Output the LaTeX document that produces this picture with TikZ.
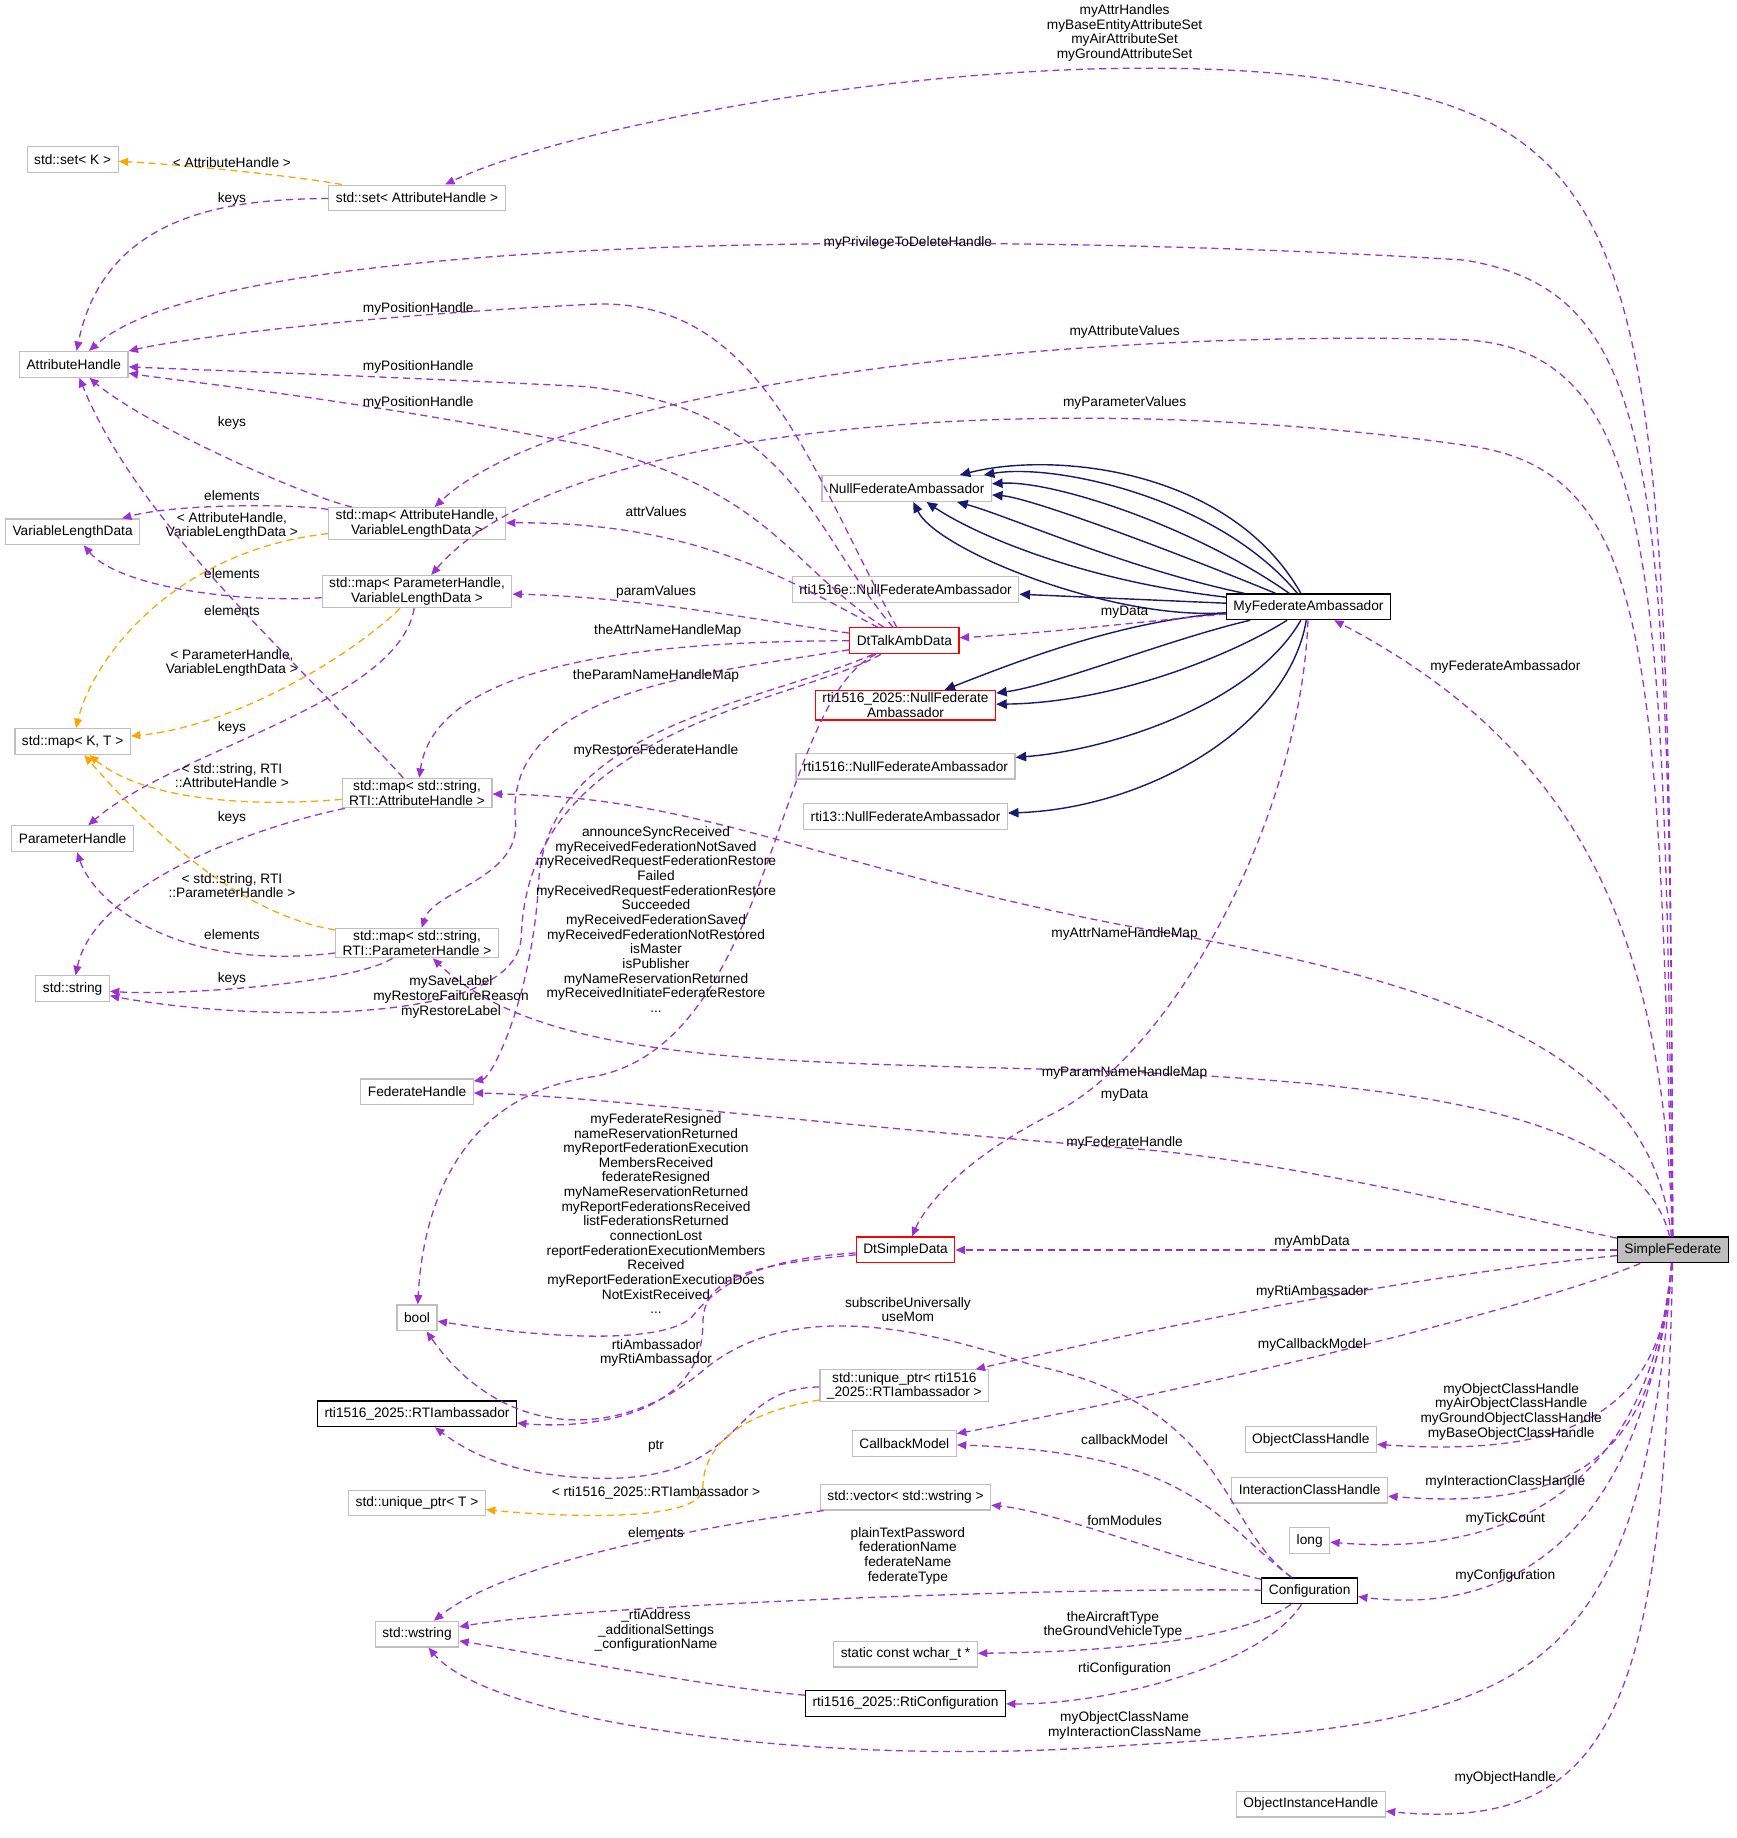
\documentclass[tikz,border=0pt]{standalone}
\usepackage{fontspec}
\setmainfont{Liberation Sans}
\usetikzlibrary{arrows.meta}
\definecolor{pur}{HTML}{9A32CD}
\definecolor{org}{HTML}{FFA500}
\definecolor{nav}{HTML}{191970}
\definecolor{gbd}{HTML}{BFBFBF}
\begin{document}
\begin{tikzpicture}[x=0.5pt,y=-0.5pt,
  every node/.style={font=\fontsize{5.85}{6.25}\selectfont},
  box/.style={draw=gbd,fill=white,line width=0.5pt,inner xsep=3pt,inner ysep=1pt,minimum height=11pt,align=center},
  bbox/.style={box,draw=black},
  rbox/.style={box,draw=red},
  sbox/.style={box,draw=black,fill=gbd},
  lb/.style={align=center,inner sep=0pt},
  e/.style={pur,densely dashed,dash pattern=on 3pt off 2pt,line width=0.55pt,-{Triangle[length=4pt,width=3.4pt]}},
  o/.style={e,org},
  n/.style={nav,line width=0.6pt,-{Triangle[length=4.5pt,width=4pt]}}]
\useasboundingbox (0,0) rectangle (1482,1569);
% nodes
\node[box] (setK) at (62,136) {std::set< K >};
\node[box] (setAH) at (356,169) {std::set< AttributeHandle >};
\node[box] (AH) at (63,311) {AttributeHandle};
\node[box] (VLD) at (62,454) {VariableLengthData};
\node[box] (mapKT) at (62,633) {std::map< K, T >};
\node[box] (PH) at (62,716) {ParameterHandle};
\node[box] (str) at (62,844) {std::string};
\node[box] (mapAV) at (356,447) {std::map< AttributeHandle,\\VariableLengthData >};
\node[box] (mapPV) at (356,505) {std::map< ParameterHandle,\\VariableLengthData >};
\node[box] (mapSA) at (356,677) {std::map< std::string,\\RTI::AttributeHandle >};
\node[box] (mapSP) at (356,805) {std::map< std::string,\\RTI::ParameterHandle >};
\node[box] (FH) at (356,932) {FederateHandle};
\node[box] (bool) at (356,1125) {bool};
\node[bbox] (RTIa) at (356,1207) {rti1516\_2025::RTIambassador};
\node[box] (uptrT) at (356,1283) {std::unique\_ptr< T >};
\node[box] (wstr) at (356,1395) {std::wstring};
\node[box] (NFA) at (774,417) {NullFederateAmbassador};
\node[box] (R1516e) at (773,503) {rti1516e::NullFederateAmbassador};
\node[rbox] (DTA) at (772,547) {DtTalkAmbData};
\node[rbox] (R2025) at (773,602) {rti1516\_2025::NullFederate\\Ambassador};
\node[box] (R1516) at (773,654) {rti1516::NullFederateAmbassador};
\node[box] (R13) at (773,697) {rti13::NullFederateAmbassador};
\node[bbox] (MFA) at (1117,518) {MyFederateAmbassador};
\node[rbox] (DSD) at (773,1067) {DtSimpleData};
\node[box] (uptrR) at (772,1183) {std::unique\_ptr< rti1516\\\_2025::RTIambassador >};
\node[box] (CM) at (772,1232) {CallbackModel};
\node[box] (vec) at (773,1278) {std::vector< std::wstring >};
\node[box] (scw) at (773,1412) {static const wchar\_t *};
\node[bbox] (RC) at (773,1454) {rti1516\_2025::RtiConfiguration};
\node[bbox] (Conf) at (1118,1358) {Configuration};
\node[box] (OCH) at (1119,1229) {ObjectClassHandle};
\node[box] (ICH) at (1118,1272) {InteractionClassHandle};
\node[box] (long) at (1118,1315) {long};
\node[box] (OIH) at (1119,1540) {ObjectInstanceHandle};
\node[sbox] (SF) at (1428,1067) {SimpleFederate};
% SimpleFederate edges
\draw[e] (SF) .. controls (1425,250) and (1420,110) .. (1150,70) .. controls (900,30) and (500,100) .. (setAH);
\node[lb] (l1) at (960,28) {myAttrHandles\\myBaseEntityAttributeSet\\myAirAttributeSet\\myGroundAttributeSet};
\draw[e] (SF) .. controls (1425,400) and (1420,250) .. (1250,222) .. controls (900,200) and (200,190) .. (AH);
\node[lb] (l2) at (775,207) {myPrivilegeToDeleteHandle};
\draw[e] (SF) .. controls (1420,500) and (1420,300) .. (1250,290) .. controls (900,280) and (480,330) .. (mapAV);
\node[lb] (l3) at (960,283) {myAttributeValues};
\draw[e] (SF) .. controls (1415,550) and (1410,400) .. (1250,380) .. controls (900,330) and (480,360) .. (mapPV);
\node[lb] (l4) at (960,344) {myParameterValues};
\draw[e] (SF) .. controls (1420,800) and (1350,640) .. (MFA);
\node[lb] (l5) at (1285,569) {myFederateAmbassador};
\draw[e] (SF) .. controls (1410,900) and (1250,840) .. (960,790) .. controls (700,740) and (600,680) .. (mapSA);
\node[lb] (l6) at (960,797) {myAttrNameHandleMap};
\draw[e] (SF) .. controls (1400,950) and (1200,925) .. (960,915) .. controls (700,905) and (470,915) .. (mapSP);
\node[lb] (l7) at (960,916) {myParamNameHandleMap};
\draw[e] (SF) .. controls (1300,1040) and (1100,990) .. (960,980) .. controls (700,960) and (500,935) .. (FH);
\node[lb] (l8) at (960,976) {myFederateHandle};
\draw[e] (SF) -- (DSD);
\node[lb] (l9) at (1120,1060) {myAmbData};
\draw[e] (SF) .. controls (1200,1090) and (1000,1130) .. (uptrR);
\node[lb] (l10) at (1120,1103) {myRtiAmbassador};
\draw[e] (SF) .. controls (1300,1120) and (1000,1190) .. (CM);
\node[lb] (l11) at (1120,1148) {myCallbackModel};
\draw[e] (SF) .. controls (1420,1200) and (1350,1245) .. (OCH);
\node[lb] (l12) at (1290,1205) {myObjectClassHandle\\myAirObjectClassHandle\\myGroundObjectClassHandle\\myBaseObjectClassHandle};
\draw[e] (SF) .. controls (1415,1240) and (1350,1290) .. (ICH);
\node[lb] (l13) at (1285,1265) {myInteractionClassHandle};
\draw[e] (SF) .. controls (1410,1260) and (1300,1330) .. (long);
\node[lb] (l14) at (1285,1297) {myTickCount};
\draw[e] (SF) .. controls (1405,1300) and (1300,1380) .. (Conf);
\node[lb] (l15) at (1285,1345) {myConfiguration};
\draw[e] (SF) .. controls (1400,1450) and (1300,1470) .. (960,1490) .. controls (700,1510) and (420,1470) .. (wstr);
\node[lb] (l16) at (960,1473) {myObjectClassName\\myInteractionClassName};
\draw[e] (SF) .. controls (1420,1450) and (1380,1565) .. (OIH);
\node[lb] (l17) at (1285,1518) {myObjectHandle};
% MyFederateAmbassador
\draw[n] (MFA) .. controls (1050,400) and (900,385) .. (NFA);
\draw[n] (MFA) .. controls (1040,425) and (900,395) .. (NFA);
\draw[n] (MFA) .. controls (1020,450) and (900,410) .. (NFA);
\draw[n] (MFA) .. controls (1000,470) and (880,425) .. (NFA);
\draw[n] (MFA) .. controls (960,485) and (860,440) .. (NFA);
\draw[n] (MFA) .. controls (920,495) and (830,455) .. (NFA);
\draw[n] (MFA) .. controls (950,530) and (800,470) .. (NFA);
\draw[n] (MFA) -- (R1516e);
\draw[n] (MFA) .. controls (960,530) and (880,560) .. (R2025);
\draw[n] (MFA) .. controls (1000,545) and (900,585) .. (R2025);
\draw[n] (MFA) .. controls (1050,560) and (950,600) .. (R2025);
\draw[n] (MFA) .. controls (1070,600) and (950,640) .. (R1516);
\draw[n] (MFA) .. controls (1100,620) and (980,690) .. (R13);
\draw[e] (MFA) .. controls (980,530) and (900,540) .. (DTA);
\node[lb] (l18) at (960,523) {myData};
\draw[e] (MFA) .. controls (1110,700) and (1000,900) .. (900,950) .. controls (820,990) and (790,1030) .. (DSD);
\node[lb] (l19) at (960,935) {myData};
% DtTalkAmbData
\draw[e] (DTA) .. controls (690,400) and (650,250) .. (500,260) .. controls (300,270) and (150,290) .. (AH);
\node[lb] (l20) at (357,264) {myPositionHandle};
\draw[e] (DTA) .. controls (690,450) and (680,350) .. (500,330) .. controls (300,320) and (150,315) .. (AH);
\node[lb] (l21) at (357,313) {myPositionHandle};
\draw[e] (DTA) .. controls (670,480) and (660,420) .. (500,380) .. controls (300,340) and (150,325) .. (AH);
\node[lb] (l22) at (357,344) {myPositionHandle};
\draw[e] (DTA) .. controls (680,500) and (600,445) .. (mapAV);
\node[lb] (l23) at (560,437) {attrValues};
\draw[e] (DTA) .. controls (650,530) and (550,510) .. (mapPV);
\node[lb] (l24) at (560,505) {paramValues};
\draw[e] (DTA) .. controls (500,547) and (370,580) .. (mapSA);
\node[lb] (l25) at (570,539) {theAttrNameHandleMap};
\draw[e] (DTA) .. controls (600,575) and (430,590) .. (440,700) .. controls (445,750) and (370,760) .. (mapSP);
\node[lb] (l26) at (560,577) {theParamNameHandleMap};
\draw[e] (DTA) .. controls (650,600) and (470,620) .. (460,750) .. controls (455,850) and (420,920) .. (FH);
\node[lb] (l27) at (560,641) {myRestoreFederateHandle};
\draw[e] (DTA) .. controls (660,600) and (660,900) .. (500,920) .. controls (380,940) and (360,1050) .. (bool);
\node[lb] (l28) at (560,785) {announceSyncReceived\\myReceivedFederationNotSaved\\myReceivedRequestFederationRestore\\Failed\\myReceivedRequestFederationRestore\\Succeeded\\myReceivedFederationSaved\\myReceivedFederationNotRestored\\isMaster\\isPublisher\\myNameReservationReturned\\myReceivedInitiateFederateRestore\\...};
\draw[e] (DTA) .. controls (680,600) and (450,620) .. (445,800) .. controls (440,880) and (200,870) .. (str);
\node[lb] (l29) at (385,851) {mySaveLabel\\myRestoreFailureReason\\myRestoreLabel};
% DtSimpleData
\draw[e] (DSD) .. controls (640,1075) and (610,1100) .. (590,1125) .. controls (560,1150) and (450,1140) .. (bool);
\node[lb] (l30) at (560,1036) {myFederateResigned\\nameReservationReturned\\myReportFederationExecution\\MembersReceived\\federateResigned\\myNameReservationReturned\\myReportFederationsReceived\\listFederationsReturned\\connectionLost\\reportFederationExecutionMembers\\Received\\myReportFederationExecutionDoes\\NotExistReceived\\...};
\draw[e] (DSD) .. controls (640,1080) and (600,1090) .. (600,1130) .. controls (600,1210) and (500,1220) .. (RTIa);
\node[lb] (l31) at (560,1155) {rtiAmbassador\\myRtiAmbassador};
\draw[e] (uptrR) .. controls (620,1185) and (640,1260) .. (520,1262) .. controls (440,1262) and (400,1240) .. (RTIa);
\node[lb] (l32) at (560,1235) {ptr};
\draw[o] (uptrR) .. controls (610,1210) and (600,1250) .. (600,1270) .. controls (600,1300) and (480,1295) .. (uptrT);
\node[lb] (l33) at (560,1274) {< rti1516\_2025::RTIambassador >};
% Configuration
\draw[e] (Conf) .. controls (1040,1300) and (1050,1200) .. (880,1165) .. controls (750,1120) and (660,1120) .. (600,1170) .. controls (530,1230) and (430,1230) .. (bool);
\node[lb] (l34) at (775,1118) {subscribeUniversally\\useMom};
\draw[e] (Conf) .. controls (1040,1300) and (1020,1240) .. (CM);
\node[lb] (l35) at (960,1229) {callbackModel};
\draw[e] (Conf) .. controls (1000,1330) and (900,1290) .. (vec);
\node[lb] (l36) at (960,1298) {fomModules};
\draw[e] (Conf) .. controls (900,1355) and (500,1370) .. (wstr);
\node[lb] (l37) at (775,1328) {plainTextPassword\\federationName\\federateName\\federateType};
\draw[e] (Conf) .. controls (1060,1400) and (950,1410) .. (scw);
\node[lb] (l38) at (950,1387) {theAircraftType\\theGroundVehicleType};
\draw[e] (Conf) .. controls (1080,1420) and (950,1455) .. (RC);
\node[lb] (l39) at (960,1425) {rtiConfiguration};
\draw[e] (RC) .. controls (600,1440) and (450,1410) .. (wstr);
\node[lb] (l40) at (560,1392) {\_rtiAddress\\\_additionalSettings\\\_configurationName};
\draw[e] (vec) .. controls (700,1290) and (450,1320) .. (wstr);
\node[lb] (l41) at (560,1308) {elements};
% containers
\draw[o] (setAH) .. controls (250,150) and (150,140) .. (setK);
\node[lb] (l42) at (198,139) {< AttributeHandle >};
\draw[e] (setAH) .. controls (200,170) and (90,180) .. (AH);
\node[lb] (l43) at (198,170) {keys};
\draw[e] (mapAV) .. controls (250,420) and (120,360) .. (AH);
\node[lb] (l44) at (198,361) {keys};
\draw[e] (mapAV) .. controls (250,430) and (150,430) .. (VLD);
\node[lb] (l45) at (198,423) {elements};
\draw[o] (mapAV) .. controls (150,470) and (80,560) .. (mapKT);
\node[lb] (l46) at (198,449) {< AttributeHandle,\\VariableLengthData >};
\draw[e] (mapPV) .. controls (200,515) and (100,500) .. (VLD);
\node[lb] (l47) at (198,490) {elements};
\draw[o] (mapPV) .. controls (300,560) and (200,620) .. (mapKT);
\node[lb] (l48) at (198,566) {< ParameterHandle,\\VariableLengthData >};
\draw[e] (mapPV) .. controls (340,600) and (150,640) .. (PH);
\node[lb] (l49) at (198,621) {keys};
\draw[e] (mapSA) .. controls (250,560) and (120,450) .. (AH);
\node[lb] (l50) at (198,521) {elements};
\draw[o] (mapSA) .. controls (200,690) and (120,680) .. (mapKT);
\node[lb] (l51) at (198,662) {< std::string, RTI\\::AttributeHandle >};
\draw[e] (mapSA) .. controls (200,710) and (80,760) .. (str);
\node[lb] (l52) at (198,698) {keys};
\draw[o] (mapSP) .. controls (200,780) and (120,700) .. (mapKT);
\node[lb] (l53) at (198,756) {< std::string, RTI\\::ParameterHandle >};
\draw[e] (mapSP) .. controls (150,830) and (80,770) .. (PH);
\node[lb] (l54) at (198,798) {elements};
\draw[e] (mapSP) .. controls (300,840) and (150,850) .. (str);
\node[lb] (l55) at (198,836) {keys};
\end{tikzpicture}
\end{document}
